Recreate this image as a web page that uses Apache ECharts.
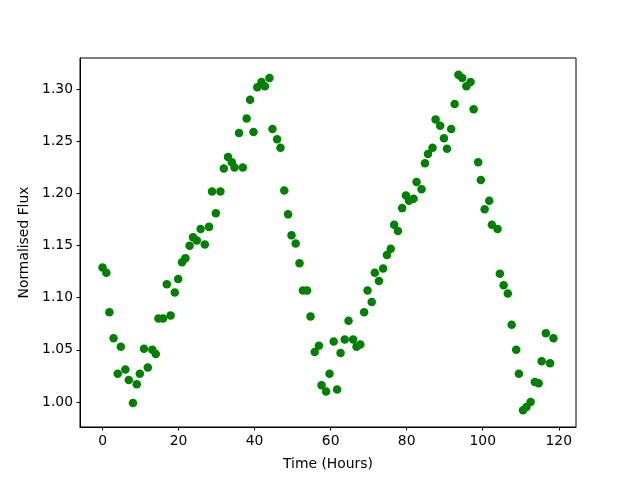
<!DOCTYPE html>
<html>
<head>
<meta charset="utf-8">
<script src="https://cdn.jsdelivr.net/npm/echarts@6/dist/echarts.min.js"></script>
<style>
  html, body { margin: 0; padding: 0; background: #fff; }
  #chart { width: 640px; height: 480px; }
</style>
</head>
<body>
<div id="chart"></div>
<script>
// observation times (hours)
const times = [
  0.0, 1.0, 1.8, 2.9, 4.0, 4.8, 6.0, 6.9, 8.0, 9.0,
  9.8, 10.9, 11.9, 13.1, 14.0, 14.7, 15.9, 16.9, 17.9, 19.0,
  19.9, 20.9, 21.8, 22.9, 23.8, 24.8, 25.8, 26.9, 28.0, 28.8,
  29.8, 31.0, 31.9, 33.0, 34.0, 34.7, 35.9, 36.9, 37.9, 38.8,
  39.7, 40.7, 41.8, 42.7, 43.9, 44.7, 45.9, 46.8, 47.8, 48.8,
  49.7, 50.8, 51.8, 52.7, 53.8, 54.7, 55.8, 56.9, 57.6, 58.8,
  59.7, 60.8, 61.7, 62.6, 63.7, 64.7, 65.9, 66.8, 67.8, 68.8,
  69.7, 70.8, 71.6, 72.7, 73.8, 74.8, 75.8, 76.7, 77.7, 78.8,
  79.8, 80.6, 81.8, 82.6, 83.9, 84.8, 85.6, 86.8, 87.6, 88.8,
  89.8, 90.6, 91.7, 92.6, 93.6, 94.6, 95.7, 96.8, 97.6, 98.8,
  99.5, 100.5, 101.7, 102.4, 103.9, 104.5, 105.5, 106.6, 107.6, 108.8,
  109.5, 110.6, 111.5, 112.6, 113.7, 114.7, 115.5, 116.6, 117.7, 118.6
];

// normalised flux at each time
const flux = [
  1.129, 1.124, 1.086, 1.061, 1.027, 1.053, 1.031, 1.021, 0.999, 1.017,
  1.027, 1.051, 1.033, 1.050, 1.046, 1.080, 1.080, 1.113, 1.083, 1.105,
  1.118, 1.134, 1.138, 1.150, 1.158, 1.155, 1.166, 1.151, 1.168, 1.202,
  1.181, 1.202, 1.224, 1.235, 1.230, 1.225, 1.258, 1.225, 1.272, 1.290,
  1.259, 1.302, 1.307, 1.303, 1.311, 1.262, 1.252, 1.244, 1.203, 1.180,
  1.160, 1.152, 1.133, 1.107, 1.107, 1.082, 1.048, 1.054, 1.016, 1.010,
  1.027, 1.058, 1.012, 1.047, 1.060, 1.078, 1.060, 1.053, 1.055, 1.086,
  1.107, 1.096, 1.124, 1.116, 1.128, 1.141, 1.147, 1.170, 1.164, 1.186,
  1.198, 1.193, 1.195, 1.211, 1.204, 1.229, 1.238, 1.244, 1.271, 1.265,
  1.253, 1.243, 1.262, 1.286, 1.314, 1.311, 1.303, 1.307, 1.281, 1.230,
  1.213, 1.185, 1.193, 1.170, 1.166, 1.123, 1.112, 1.104, 1.074, 1.050,
  1.027, 0.992, 0.995, 1.000, 1.019, 1.018, 1.039, 1.066, 1.037, 1.061
];

const xTicks = [0, 20, 40, 60, 80, 100, 120];
const yTicks = [1.00, 1.05, 1.10, 1.15, 1.20, 1.25, 1.30];

const points = times.map((t, i) => [t, flux[i]]);

const FONT = "DejaVu Sans";
const axisText = { color: "#000", fontFamily: FONT, fontSize: 13.9 };

var chart = echarts.init(document.getElementById("chart"), null, { renderer: "canvas" });
chart.setOption({
  animation: false,
  backgroundColor: "#fff",
  grid: {
    left: 80, right: 64, top: 58, bottom: 53,
    show: true, borderColor: "#000", borderWidth: 1,
    containLabel: false,
  },
  xAxis: {
    type: "value",
    min: -5.93,
    max: 124.53,
    name: "Time (Hours)",
    nameLocation: "middle",
    nameGap: 30,
    nameTextStyle: axisText,
    splitLine: { show: false },
    axisLine: { show: true, onZero: false, lineStyle: { color: "#000", width: 1 } },
    axisTick: { show: true, inside: false, length: 3.5, lineStyle: { color: "#000", width: 1 }, customValues: xTicks },
    axisLabel: Object.assign({ margin: 7, customValues: xTicks, formatter: (v) => String(v) }, axisText),
  },
  yAxis: {
    type: "value",
    min: 0.9759,
    max: 1.3301,
    name: "Normalised Flux",
    nameLocation: "middle",
    nameGap: 43,
    nameTextStyle: axisText,
    splitLine: { show: false },
    axisLine: { show: true, onZero: false, lineStyle: { color: "#000", width: 1 } },
    axisTick: { show: true, inside: false, length: 3.5, lineStyle: { color: "#000", width: 1 }, customValues: yTicks },
    axisLabel: Object.assign({ margin: 7, customValues: yTicks, formatter: (v) => v.toFixed(2) }, axisText),
  },
  series: [
    {
      type: "scatter",
      data: points,
      symbol: "circle",
      symbolSize: 8.5,
      itemStyle: { color: "#008000", opacity: 1 },
    },
  ],
});
</script>
</body>
</html>
